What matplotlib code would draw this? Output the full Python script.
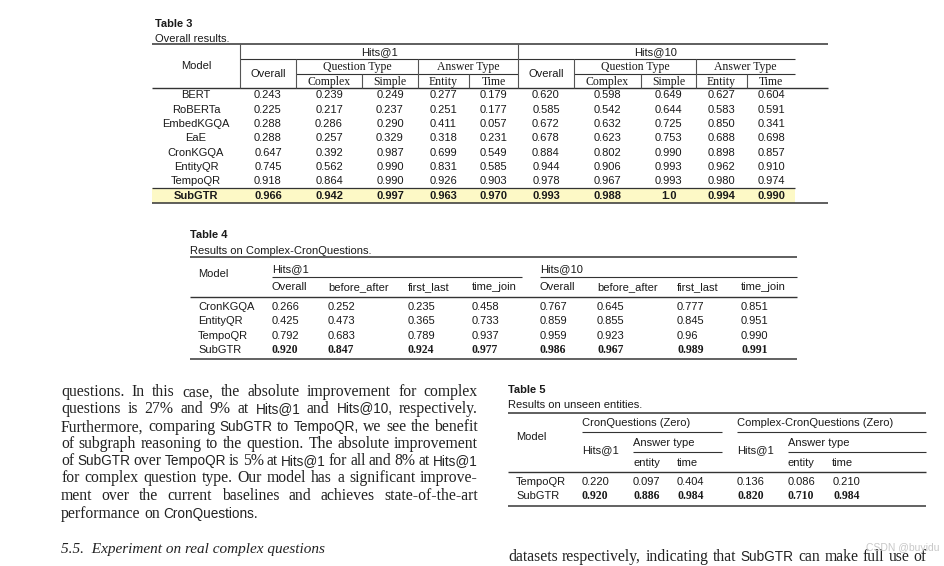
import matplotlib.pyplot as plt
from matplotlib.patches import Rectangle

SANS = 'Liberation Sans'
SERIF = 'Liberation Serif'

# ---- data ----
t3_models = ['BERT', 'RoBERTa', 'EmbedKGQA', 'EaE', 'CronKGQA', 'EntityQR', 'TempoQR', 'SubGTR']
t3_hits1 = [['0.243', '0.239', '0.249', '0.277', '0.179'],
            ['0.225', '0.217', '0.237', '0.251', '0.177'],
            ['0.288', '0.286', '0.290', '0.411', '0.057'],
            ['0.288', '0.257', '0.329', '0.318', '0.231'],
            ['0.647', '0.392', '0.987', '0.699', '0.549'],
            ['0.745', '0.562', '0.990', '0.831', '0.585'],
            ['0.918', '0.864', '0.990', '0.926', '0.903'],
            ['0.966', '0.942', '0.997', '0.963', '0.970']]
t3_hits10 = [['0.620', '0.598', '0.649', '0.627', '0.604'],
             ['0.585', '0.542', '0.644', '0.583', '0.591'],
             ['0.672', '0.632', '0.725', '0.850', '0.341'],
             ['0.678', '0.623', '0.753', '0.688', '0.698'],
             ['0.884', '0.802', '0.990', '0.898', '0.857'],
             ['0.944', '0.906', '0.993', '0.962', '0.910'],
             ['0.978', '0.967', '0.993', '0.980', '0.974'],
             ['0.993', '0.988', '1.0', '0.994', '0.990']]

t4_models = ['CronKGQA', 'EntityQR', 'TempoQR', 'SubGTR']
t4_cols = ['Overall', 'before_after', 'first_last', 'time_join']
t4_hits1 = [['0.266', '0.252', '0.235', '0.458'],
            ['0.425', '0.473', '0.365', '0.733'],
            ['0.792', '0.683', '0.789', '0.937'],
            ['0.920', '0.847', '0.924', '0.977']]
t4_hits10 = [['0.767', '0.645', '0.777', '0.851'],
             ['0.859', '0.855', '0.845', '0.951'],
             ['0.959', '0.923', '0.96', '0.990'],
             ['0.986', '0.967', '0.989', '0.991']]

t5_models = ['TempoQR', 'SubGTR']
t5_cron = [['0.220', '0.097', '0.404'], ['0.920', '0.886', '0.984']]
t5_complex = [['0.136', '0.086', '0.210'], ['0.820', '0.710', '0.984']]

body_lines = [
    'questions. In this case, the absolute improvement for complex',
    'questions is 27% and 9% at Hits@1 and Hits@10, respectively.',
    'Furthermore, comparing SubGTR to TempoQR, we see the benefit',
    'of subgraph reasoning to the question. The absolute improvement',
    'of SubGTR over TempoQR is 5% at Hits@1 for all and 8% at Hits@1',
    'for complex question type. Our model has a significant improve-',
    'ment over the current baselines and achieves state-of-the-art',
    'performance on CronQuestions.',
]
sans_words = {'SubGTR', 'TempoQR', 'Hits@1', 'Hits@10', 'CronQuestions'}

# ---- canvas in pixel coords ----
W, H = 945, 566
fig = plt.figure(figsize=(W / 100, H / 100), dpi=100)
ax = fig.add_axes([0, 0, 1, 1])
ax.set_xlim(0, W)
ax.set_ylim(H, 0)
ax.axis('off')
INK = '#1a1a1a'


def txt(x, y, s, size=8, bold=False, ha='center', family=SANS, style='normal', color=INK):
    # y is the visual middle of the capitals; place the baseline below it
    return ax.text(x, y + size * 100 / 72 * 0.35, s, fontsize=size,
                   fontweight='bold' if bold else 'normal',
                   ha=ha, va='baseline', family=family, style=style, color=color)


def hline(y, x0, x1, lw=0.8, color='#333333'):
    ax.plot([x0, x1], [y, y], color=color, lw=lw, solid_capstyle='butt')


def vline(x, y0, y1, lw=0.8, color='#555555'):
    ax.plot([x, x], [y0, y1], color=color, lw=lw, solid_capstyle='butt')


# ---- Table 3 ----
txt(155, 23, 'Table 3', bold=True, ha='left')
txt(155, 38, 'Overall results.', ha='left')
ax.add_patch(Rectangle((152, 188), 795 - 152, 15, color='#fdf9c6', lw=0))
hline(44, 152, 828, lw=1.1)
hline(88, 152, 828, lw=1.0)
hline(203, 152, 828, lw=1.1)
hline(188, 152, 795, lw=0.9)
hline(59, 240, 795)
hline(74, 296, 518)
hline(74, 574, 795)
for x in (240, 518):
    vline(x, 44, 88)
for x in (296, 418, 574, 696):
    vline(x, 59, 88)
for x in (362, 469, 641, 747):
    vline(x, 74, 88)

txt(196, 65, 'Model')
txt(379, 51, 'Hits@1')
txt(656, 51, 'Hits@10')
bounds = [240, 296, 362, 418, 469, 518, 574, 641, 696, 747, 795]
centers = [(a + b) / 2 for a, b in zip(bounds[:-1], bounds[1:])]
for off in (0, 5):
    txt(centers[off], 73, 'Overall')
    txt((bounds[off + 1] + bounds[off + 3]) / 2, 66, 'Question Type', family=SERIF, size=8.5)
    txt((bounds[off + 3] + bounds[off + 5]) / 2, 66, 'Answer Type', family=SERIF, size=8.5)
    for k, lab in enumerate(['Complex', 'Simple', 'Entity', 'Time']):
        txt(centers[off + 1 + k], 80.5, lab, family=SERIF, size=8.5)

t3_rows_y = [94, 109, 123, 137, 152, 166, 180.5, 195.5]
for i, m in enumerate(t3_models):
    b = m == 'SubGTR'
    txt(196, t3_rows_y[i], m, bold=b)
    for j, v in enumerate(t3_hits1[i] + t3_hits10[i]):
        txt(centers[j], t3_rows_y[i], v, bold=b)

# ---- Table 4 ----
txt(190, 234, 'Table 4', bold=True, ha='left')
txt(190, 250, 'Results on Complex-CronQuestions.', ha='left')
hline(257, 190, 797, lw=1.1)
hline(277, 272, 522)
hline(277, 540, 797)
hline(297, 190, 797, lw=1.0)
hline(359, 190, 797, lw=1.3, color='#555555')
txt(198, 273, 'Model', ha='left')
txt(272, 268, 'Hits@1', ha='left')
txt(540, 268, 'Hits@10', ha='left')
t4_x1 = [272, 328, 408, 472]
t4_x10 = [540, 597, 677, 741]
for k, lab in enumerate(t4_cols):
    txt(t4_x1[k], 286, lab, ha='left')
    txt(t4_x10[k], 286, lab, ha='left')
t4_rows_y = [306, 320, 335, 349]
for i, m in enumerate(t4_models):
    b = m == 'SubGTR'
    txt(198, t4_rows_y[i], m, ha='left')
    for k in range(4):
        txt(t4_x1[k], t4_rows_y[i], t4_hits1[i][k], ha='left', bold=b, family=SERIF if b else SANS,
            size=8.5 if b else 8)
        txt(t4_x10[k], t4_rows_y[i], t4_hits10[i][k], ha='left', bold=b, family=SERIF if b else SANS,
            size=8.5 if b else 8)

# ---- Table 5 ----
txt(508, 389, 'Table 5', bold=True, ha='left')
txt(508, 404, 'Results on unseen entities.', ha='left')
hline(413, 508, 926, lw=1.1)
hline(432, 582, 722)
hline(432, 737, 926)
hline(452, 633, 722)
hline(452, 788, 926)
hline(472, 508, 926, lw=1.0)
hline(506, 508, 926, lw=1.3, color='#555555')
txt(516, 436, 'Model', ha='left')
for gx, ax_x, title in ((582, 633, 'CronQuestions (Zero)'), (737, 788, 'Complex-CronQuestions (Zero)')):
    txt(gx, 422, title, ha='left')
    txt(gx, 449, 'Hits@1', ha='left')
    txt(ax_x, 442, 'Answer type', ha='left')
    txt(ax_x, 462, 'entity', ha='left')
    txt(ax_x + 44, 462, 'time', ha='left')
t5_x = [582, 633, 677, 737, 788, 833]
t5_rows_y = [481, 495]
for i, m in enumerate(t5_models):
    b = m == 'SubGTR'
    txt(516, t5_rows_y[i], m, ha='left')
    for k, v in enumerate(t5_cron[i] + t5_complex[i]):
        txt(t5_x[k], t5_rows_y[i], v, ha='left', bold=b, family=SERIF if b else SANS,
            size=8.5 if b else 8)

# ---- body text (justified) ----
renderer = fig.canvas.get_renderer()


def draw_line(line, x0, x1, y, justify=True, size=11.3):
    words = line.split(' ')
    arts = []
    for w in words:
        if w.strip('.,') in sans_words:
            arts.append(txt(0, y, w, size=size - 1.5, ha='left', family=SANS, color='#222222'))
        else:
            arts.append(txt(0, y, w, size=size, ha='left', family=SERIF, color='#222222'))
    widths = [a.get_window_extent(renderer).width for a in arts]
    gap = (x1 - x0 - sum(widths)) / (len(words) - 1) if justify else size * 0.3
    x = x0
    for a, w in zip(arts, widths):
        a.set_x(x)
        x += w + gap


body_y = [391, 408, 426, 443, 460, 477, 495, 513]
for k, line in enumerate(body_lines):
    draw_line(line, 61, 478, body_y[k], justify=k < len(body_lines) - 1)

txt(61, 548, '5.5.  Experiment on real complex questions', size=11, ha='left',
    family=SERIF, style='italic', color='#222222')
draw_line('datasets respectively, indicating that SubGTR can make full use of', 508, 927, 556)
txt(866, 547, 'CSDN @buyidu', size=7.5, ha='left', color='#c8c8c8')

fig.savefig('out.png', dpi=100)
